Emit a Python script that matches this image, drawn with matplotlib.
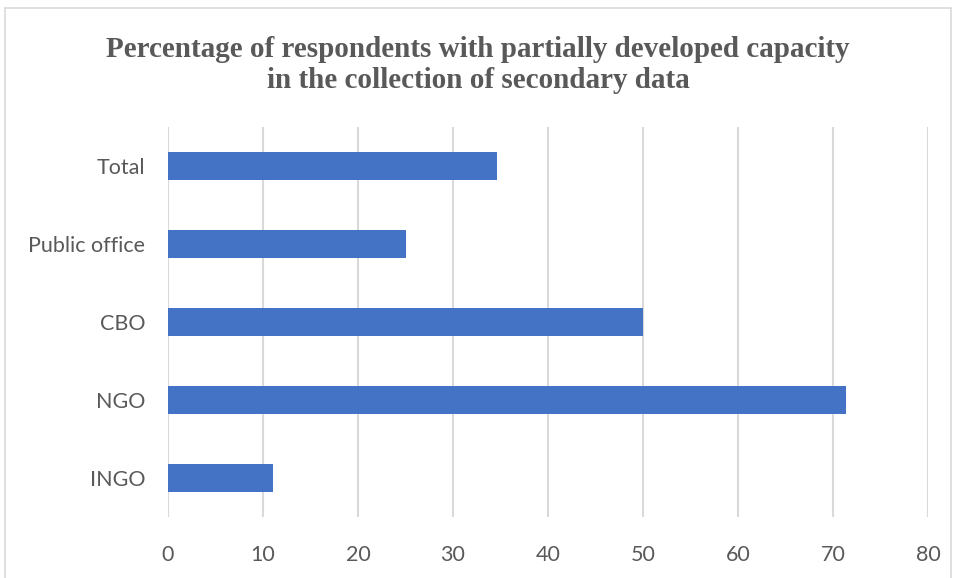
import matplotlib.pyplot as plt
from matplotlib.patches import Rectangle

categories = ["INGO", "NGO", "CBO", "Public office", "Total"]
values = [11.1, 71.4, 50.0, 25.0, 34.6]
x_ticks = [0, 10, 20, 30, 40, 50, 60, 70, 80]

fig = plt.figure(figsize=(9.56, 5.78), dpi=100)
ax = fig.add_axes([168 / 956, 61 / 578, 760 / 956, 390 / 578])

ax.barh(range(len(categories)), values, height=0.36, color="#4472C4", zorder=3)

ax.set_xlim(0, 80)
ax.set_ylim(-0.5, len(categories) - 0.5)
ax.set_xticks(x_ticks)
ax.set_yticks(range(len(categories)))
ax.set_yticklabels(categories)
ax.grid(axis="x", color="#D9D9D9", linewidth=1.5, zorder=0)
for s in ax.spines.values():
    s.set_visible(False)
ax.tick_params(length=0, labelsize=15.5, labelcolor="#595959", colors="#595959")
ax.tick_params(axis="x", pad=20)
ax.tick_params(axis="y", pad=16.5)
for lbl in ax.get_xticklabels() + ax.get_yticklabels():
    lbl.set_family("Lato")

# light frame around the whole chart
fig.patches.append(Rectangle((5 / 956, -0.01), 946 / 956, 1 - 8 / 578 + 0.01,
                             transform=fig.transFigure, fill=False,
                             edgecolor="#D9D9D9", linewidth=1.2))

fig.text(0.5, 1 - 65 / 578,
         "Percentage of respondents with partially developed capacity\nin the collection of secondary data",
         ha="center", va="center", fontsize=21, fontweight="bold",
         family="Liberation Serif", color="#595959", linespacing=1.22)

fig.savefig("out.png", dpi=100)
